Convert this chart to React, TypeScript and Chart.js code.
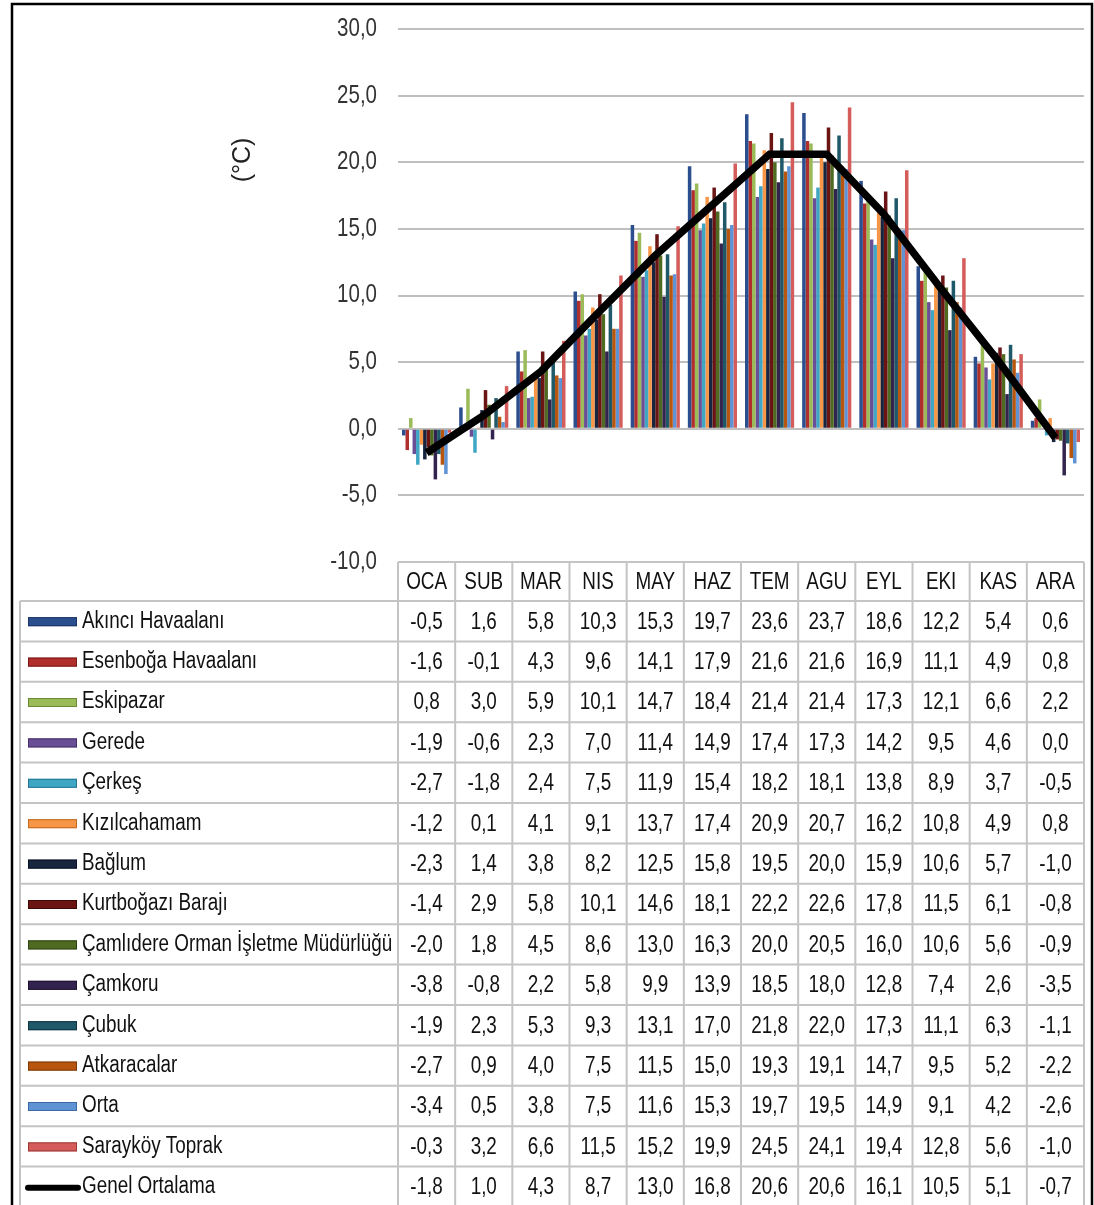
import React, { useEffect, useRef } from 'react';
import { Chart, registerables } from 'chart.js';

Chart.register(...registerables);

const months = ['OCA', 'SUB', 'MAR', 'NIS', 'MAY', 'HAZ', 'TEM', 'AGU', 'EYL', 'EKI', 'KAS', 'ARA'];

const stationNames = [
  'Akıncı Havaalanı',
  'Esenboğa Havaalanı',
  'Eskipazar',
  'Gerede',
  'Çerkeş',
  'Kızılcahamam',
  'Bağlum',
  'Kurtboğazı Barajı',
  'Çamlıdere Orman İşletme Müdürlüğü',
  'Çamkoru',
  'Çubuk',
  'Atkaracalar',
  'Orta',
  'Sarayköy Toprak',
];

const akinci = [-0.5, 1.6, 5.8, 10.3, 15.3, 19.7, 23.6, 23.7, 18.6, 12.2, 5.4, 0.6];
const esenboga = [-1.6, -0.1, 4.3, 9.6, 14.1, 17.9, 21.6, 21.6, 16.9, 11.1, 4.9, 0.8];
const eskipazar = [0.8, 3.0, 5.9, 10.1, 14.7, 18.4, 21.4, 21.4, 17.3, 12.1, 6.6, 2.2];
const gerede = [-1.9, -0.6, 2.3, 7.0, 11.4, 14.9, 17.4, 17.3, 14.2, 9.5, 4.6, 0.0];
const cerkes = [-2.7, -1.8, 2.4, 7.5, 11.9, 15.4, 18.2, 18.1, 13.8, 8.9, 3.7, -0.5];
const kizilcahamam = [-1.2, 0.1, 4.1, 9.1, 13.7, 17.4, 20.9, 20.7, 16.2, 10.8, 4.9, 0.8];
const baglum = [-2.3, 1.4, 3.8, 8.2, 12.5, 15.8, 19.5, 20.0, 15.9, 10.6, 5.7, -1.0];
const kurtbogazi = [-1.4, 2.9, 5.8, 10.1, 14.6, 18.1, 22.2, 22.6, 17.8, 11.5, 6.1, -0.8];
const camlidere = [-2.0, 1.8, 4.5, 8.6, 13.0, 16.3, 20.0, 20.5, 16.0, 10.6, 5.6, -0.9];
const camkoru = [-3.8, -0.8, 2.2, 5.8, 9.9, 13.9, 18.5, 18.0, 12.8, 7.4, 2.6, -3.5];
const cubuk = [-1.9, 2.3, 5.3, 9.3, 13.1, 17.0, 21.8, 22.0, 17.3, 11.1, 6.3, -1.1];
const atkaracalar = [-2.7, 0.9, 4.0, 7.5, 11.5, 15.0, 19.3, 19.1, 14.7, 9.5, 5.2, -2.2];
const orta = [-3.4, 0.5, 3.8, 7.5, 11.6, 15.3, 19.7, 19.5, 14.9, 9.1, 4.2, -2.6];
const saraykoy = [-0.3, 3.2, 6.6, 11.5, 15.2, 19.9, 24.5, 24.1, 19.4, 12.8, 5.6, -1.0];

const averageName = 'Genel Ortalama';
const genelOrtalama = [-1.8, 1.0, 4.3, 8.7, 13.0, 16.8, 20.6, 20.6, 16.1, 10.5, 5.1, -0.7];

const stationValues = [
  akinci, esenboga, eskipazar, gerede, cerkes, kizilcahamam, baglum,
  kurtbogazi, camlidere, camkoru, cubuk, atkaracalar, orta, saraykoy,
];

const stationColors = [
  '#2b4f8e', '#b02f2c', '#9bbb59', '#6a4f96', '#3fa6c4', '#f79646', '#17253f',
  '#6b1414', '#4f6b22', '#33244f', '#1f5868', '#b8560f', '#5f93d3', '#d45c5a',
];
const stationBorders = [
  '#1a3364', '#7a1a18', '#6b8a35', '#452f6a', '#257590', '#c06a20', '#0a1326',
  '#3d0808', '#2f4312', '#1c1230', '#0e3440', '#7d3a08', '#3c6aa8', '#9a3a38',
];

const yMin = -10;
const yMax = 30;
const yStep = 5;
const yTitle = '(°C)';

const FONT = '"Liberation Sans", Arial, sans-serif';
const SX = 0.82; // narrow text
const fmt = (v: number) => v.toFixed(1).replace('.', ',');

function drawText(ctx: CanvasRenderingContext2D, text: string, x: number, y: number, align: CanvasTextAlign, color: string, size = 23, rot = 0, sx = SX) {
  ctx.save();
  ctx.translate(x, y);
  if (rot) ctx.rotate(rot);
  ctx.scale(sx, 1);
  ctx.font = `${size}px ${FONT}`;
  ctx.textAlign = align;
  ctx.textBaseline = 'middle';
  ctx.fillStyle = color;
  ctx.fillText(text, 0, 0);
  ctx.restore();
}

const tablePlugin = {
  id: 'dataTable',
  afterDraw(chart: any) {
    const { ctx, chartArea, scales } = chart;
    const xs = scales.x;
    const ys = scales.y;
    const left = chartArea.left;
    const right = chartArea.right;
    const colW = (right - left) / months.length;
    const headerTop = chartArea.bottom;
    const headerH = 39;
    const rowH = 40.4;
    const bodyTop = headerTop + headerH;
    const tableLeft = 20;
    const bottom = chart.height + 5;
    const rowCount = stationNames.length + 1;

    ctx.save();
    // y tick labels
    for (let v = yMin; v <= yMax; v += yStep) {
      drawText(ctx, fmt(v), 377, ys.getPixelForValue(v), 'right', '#333', 25);
    }
    // y title
    drawText(ctx, yTitle, 243, 160, 'center', '#222', 25, -Math.PI / 2, 1);

    // grid lines of table
    ctx.strokeStyle = '#c4c4c4';
    ctx.lineWidth = 2;
    ctx.beginPath();
    ctx.moveTo(left, headerTop);
    ctx.lineTo(right, headerTop);
    for (let r = 0; r <= rowCount; r++) {
      const y = bodyTop + r * rowH;
      ctx.moveTo(tableLeft, y);
      ctx.lineTo(right, y);
    }
    for (let i = 0; i <= months.length; i++) {
      const x = left + i * colW;
      ctx.moveTo(x, headerTop);
      ctx.lineTo(x, bottom);
    }
    ctx.moveTo(tableLeft, bodyTop);
    ctx.lineTo(tableLeft, bottom);
    ctx.stroke();

    months.forEach((m, i) => {
      drawText(ctx, m, xs.getPixelForValue(i), headerTop + headerH / 2 + 1, 'center', '#111');
    });

    const allRows = [...stationValues, genelOrtalama];
    const allNames = [...stationNames, averageName];
    allRows.forEach((vals, r) => {
      const cy = bodyTop + r * rowH + rowH / 2 + 1;
      vals.forEach((v, i) => {
        drawText(ctx, fmt(v), xs.getPixelForValue(i), cy, 'center', '#111');
      });
      if (r < stationNames.length) {
        ctx.fillStyle = stationColors[r];
        ctx.fillRect(28, cy - 5, 49, 9);
        ctx.strokeStyle = stationBorders[r];
        ctx.lineWidth = 1;
        ctx.strokeRect(28.5, cy - 4.5, 48, 8);
      } else {
        ctx.strokeStyle = '#000';
        ctx.lineWidth = 6;
        ctx.lineCap = 'round';
        ctx.beginPath();
        ctx.moveTo(28, cy);
        ctx.lineTo(78, cy);
        ctx.stroke();
        ctx.lineCap = 'butt';
      }
      drawText(ctx, allNames[r], 82, cy - 1, 'left', '#111');
    });

    // outer frame
    ctx.strokeStyle = '#000';
    ctx.lineWidth = 2.5;
    ctx.strokeRect(12, 4, 1080, 1220);
    ctx.restore();
  },
};

export default function App() {
  const ref = useRef<HTMLCanvasElement | null>(null);

  useEffect(() => {
    document.body.style.margin = '0';
    const canvas = ref.current;
    if (!canvas) return;
    const datasets: any[] = stationValues.map((vals, i) => ({
      type: 'bar',
      label: stationNames[i],
      data: vals,
      backgroundColor: stationColors[i],
      borderWidth: 0,
      categoryPercentage: 0.86,
      barPercentage: 1.0,
      order: 1,
    }));
    datasets.push({
      type: 'line',
      label: averageName,
      data: genelOrtalama,
      borderColor: '#000',
      backgroundColor: '#000',
      borderWidth: 7.5,
      pointRadius: 0,
      tension: 0,
      fill: false,
      order: 0,
    });

    const chart = new Chart(canvas, {
      type: 'bar',
      data: { labels: months, datasets },
      options: {
        animation: false,
        responsive: false,
        maintainAspectRatio: false,
        devicePixelRatio: 1,
        layout: { padding: { left: 0, top: 29, right: 10, bottom: 1205 - 562 } },
        plugins: {
          legend: { display: false },
          tooltip: { enabled: false },
        },
        scales: {
          x: {
            display: false,
            offset: true,
            grid: { display: false },
          },
          y: {
            min: yMin,
            max: yMax,
            afterFit: (scale: any) => {
              scale.width = 398;
            },
            ticks: {
              display: false,
              stepSize: yStep,
            },
            grid: {
              color: '#bfbfbf',
              lineWidth: 2,
              drawTicks: false,
            },
            border: { display: false },
          },
        },
      },
      plugins: [tablePlugin],
    });
    return () => chart.destroy();
  }, []);

  return (
    <div style={{ position: 'absolute', left: 0, top: 0, width: 1094, height: 1205, background: '#fff' }}>
      <canvas ref={ref} width={1094} height={1205} style={{ display: 'block' }} />
    </div>
  );
}
